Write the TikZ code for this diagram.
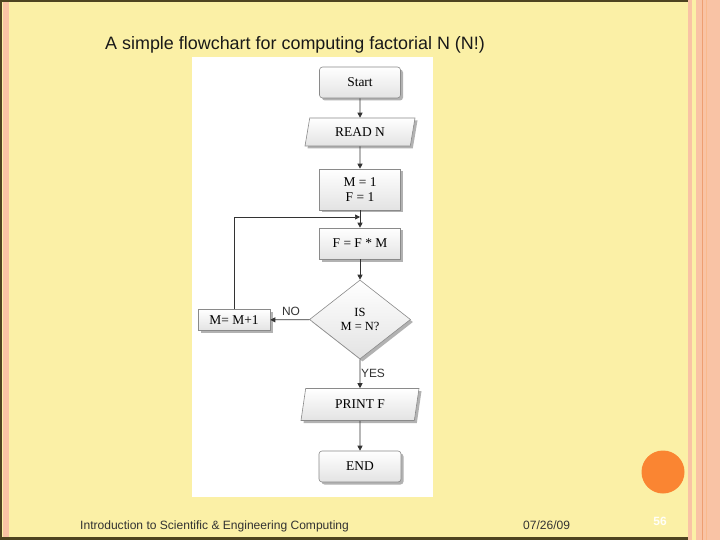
\documentclass[tikz,border=0pt]{standalone}
\usepackage{fontspec}
\setmainfont{Liberation Sans}
\newfontfamily\fcserif{Liberation Serif}
\usetikzlibrary{shapes.geometric,shadows,arrows.meta}
\definecolor{slidebg}{HTML}{FBF0A6}
\definecolor{frameol}{HTML}{4E4420}
\definecolor{stripe}{HTML}{F9C3A5}
\definecolor{stripedark}{HTML}{EE9E72}
\definecolor{dotorange}{HTML}{FA8532}
\definecolor{shapeline}{HTML}{8A8A8A}
\definecolor{flowline}{HTML}{333333}
\tikzset{
  fcbox/.style={draw=shapeline, line width=0.6bp, top color=white, bottom color=gray!22,
    drop shadow={shadow xshift=2.5bp, shadow yshift=-2.5bp, fill=gray!60, opacity=1},
    font=\fcserif\fontsize{13.5}{15}\selectfont, inner sep=0pt, align=center},
  fcterm/.style={fcbox, rectangle, rounded corners=3bp},
  fcproc/.style={fcbox, rectangle},
  fcio/.style={fcbox, trapezium, trapezium left angle=62, trapezium right angle=118,
    trapezium stretches body},
  fcdec/.style={fcbox, diamond, font=\fcserif\fontsize{12.5}{14}\selectfont},
  flow/.style={draw=flowline, line width=0.7bp, -{Triangle[length=5bp,width=5bp]}},
  edgelabel/.style={font=\fontsize{12}{14}\selectfont, text=flowline, inner sep=0pt},
}
\begin{document}
\begin{tikzpicture}[x=1bp,y=-1bp]
\useasboundingbox (0,0) rectangle (720,540);
% slide background and frame
\fill[slidebg] (0,0) rectangle (720,540);
\fill[stripe] (3,0) rectangle (8.5,537);
\fill[stripe] (688,0) rectangle (692.3,540);
\fill[stripe] (696,0) rectangle (720,540);
\draw[stripedark, line width=1bp] (702.3,0) -- (702.3,540);
\draw[stripe!85!orange, line width=0.6bp] (706.7,0) -- (706.7,540);
\fill[frameol] (0,0) rectangle (688,2);
\fill[frameol] (0,0) rectangle (2,540);
\fill[frameol] (0,537) rectangle (688,540);
% title
\node[anchor=base west, inner sep=0pt, font=\fontsize{18}{20}\selectfont, text=black!90] (title) at (105,50) {A simple flowchart for computing factorial N (N!)};
% image area
\fill[white] (192,57) rectangle (433,497);
% flowchart
\node[fcterm, minimum width=81bp, minimum height=31bp] (start) at (360,82.5) {Start};
\node[fcio, minimum width=110bp, minimum height=28bp] (read) at (360,132) {READ N};
\node[fcproc, minimum width=81bp, minimum height=41bp] (init) at (360,189.5) {M = 1\\F = 1};
\node[fcproc, minimum width=81bp, minimum height=31bp] (mult) at (360,243.5) {F = F * M};
\node[fcdec, minimum width=101bp, minimum height=79bp] (test) at (360,319.5) {IS\\M = N?};
\node[fcproc, minimum width=72bp, minimum height=21bp] (incr) at (234,320) {M= M+1};
\node[fcio, minimum width=118bp, minimum height=32bp] (print) at (360,404.5) {PRINT F};
\node[fcterm, minimum width=82bp, minimum height=31bp] (stop) at (360,466.5) {END};
\coordinate (join) at (360,217);
\draw[flow] (start) -- (read);
\draw[flow] (read) -- (init);
\draw[flow] (init) -- (mult);
\draw[flow] (mult) -- (test);
\draw[flow] (test) -- (incr);
\draw[flow] (test) -- (print);
\draw[flow] (print) -- (stop);
\draw[flow] (incr.north) |- (join);
\node[edgelabel] (nolab) at (291,311) {NO};
\node[edgelabel] (yeslab) at (373,373) {YES};
% footer
\node[anchor=base west, inner sep=0pt, font=\fontsize{12.1}{14}\selectfont, text=black!80] (foot) at (80,529) {Introduction to Scientific \& Engineering Computing};
\node[anchor=base west, inner sep=0pt, font=\fontsize{12.1}{14}\selectfont, text=black!80] (date) at (523,529) {07/26/09};
\fill[dotorange] (663,472) circle (21.5);
\node[inner sep=0pt, font=\bfseries\fontsize{12}{14}\selectfont, text=white!92!slidebg] (pnum) at (660,521) {56};
\end{tikzpicture}
\end{document}
